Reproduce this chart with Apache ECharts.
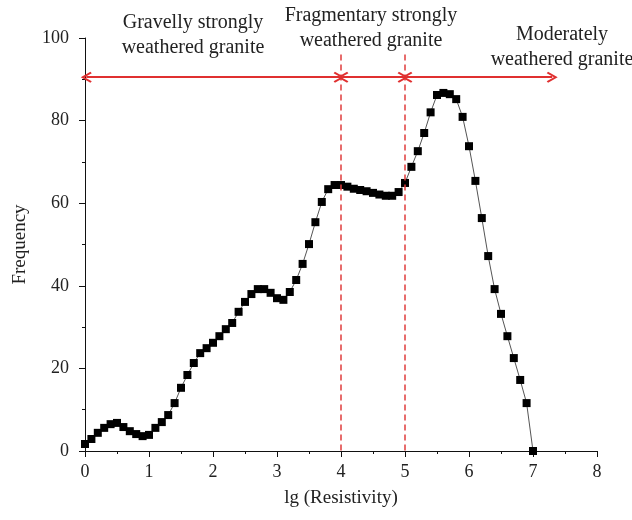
<!DOCTYPE html>
<html>
<head>
<meta charset="utf-8">
<script src="https://cdn.jsdelivr.net/npm/echarts@6/dist/echarts.min.js"></script>
<style>html,body{margin:0;padding:0;background:#fff;}#c{width:632px;height:520px;}</style>
</head>
<body>
<div id="c"></div>
<script>
var lgRes = [0.0,0.1,0.2,0.3,0.4,0.5,0.6,0.7,0.8,0.9,1.0,1.1,1.2,1.3,1.4,1.5,1.6,1.7,1.8,1.9,2.0,2.1,2.2,2.3,2.4,2.5,2.6,2.7,2.8,2.9,3.0,3.1,3.2,3.3,3.4,3.5,3.6,3.7,3.8,3.9,4.0,4.1,4.2,4.3,4.4,4.5,4.6,4.7,4.8,4.9,5.0,5.1,5.2,5.3,5.4,5.5,5.6,5.7,5.8,5.9,6.0,6.1,6.2,6.3,6.4,6.5,6.6,6.7,6.8,6.9,7.0];
var frequency = [1.7,2.9,4.4,5.6,6.5,6.8,5.8,4.8,4.1,3.6,3.9,5.6,7.0,8.7,11.6,15.3,18.4,21.3,23.7,24.9,26.2,27.8,29.5,31.0,33.7,36.1,38.0,39.2,39.2,38.3,37.0,36.6,38.5,41.4,45.3,50.1,55.4,60.3,63.4,64.4,64.4,64.0,63.5,63.2,62.9,62.5,62.1,61.8,61.8,62.7,64.9,68.8,72.6,77.0,82.0,86.2,86.7,86.4,85.2,80.9,73.8,65.4,56.4,47.2,39.2,33.2,27.8,22.5,17.2,11.6,0.0];
var xTicks = [0,1,2,3,4,5,6,7,8];
var yTicks = [0,20,40,60,80,100];
var zoneBounds = [4, 5];
var arrowSpans = [[0.02,3.97],[4.03,4.97],[5.03,7.3]];
var arrowLevel = 90.5;
var boundTop = 96;
var zoneLabels = ['Gravelly strongly\nweathered granite','Fragmentary strongly\nweathered granite','Moderately\nweathered granite'];

var font = 'Liberation Serif';
var chart = echarts.init(document.getElementById('c'), null, {renderer:'canvas'});
var pts = lgRes.map(function(x,i){return [x, frequency[i]];});
var chev = 'path://M5,0 L10,8.6 L8.6,9.8 L5,3.4 L1.4,9.8 L0,8.6 Z';

var vLines = zoneBounds.map(function(b){return [{coord:[b,boundTop]},{coord:[b,0]}];});
var aLines = arrowSpans.map(function(s){return [{coord:[s[0],arrowLevel]},{coord:[s[1],arrowLevel]}];});

chart.setOption({
  animation:false,
  backgroundColor:'#fff',
  grid:{left:85,right:35,top:38,bottom:69,containLabel:false},
  xAxis:{
    type:'value',min:0,max:8,interval:1,
    name:'lg (Resistivity)',nameLocation:'middle',nameGap:38,
    nameTextStyle:{fontFamily:font,fontSize:19,color:'#222'},
    axisLine:{show:true,onZero:false,lineStyle:{color:'#111',width:1}},
    axisTick:{show:true,inside:false,length:6,lineStyle:{color:'#111'}},
    minorTick:{show:true,splitNumber:2,length:3,lineStyle:{color:'#111'}},
    axisLabel:{fontFamily:font,fontSize:18,color:'#222',margin:12,
      formatter:function(v){return xTicks.indexOf(v)>=0?String(v):'';}},
    splitLine:{show:false}
  },
  yAxis:{
    type:'value',min:0,max:100,interval:20,
    name:'Frequency',nameLocation:'middle',nameGap:55,
    nameTextStyle:{fontFamily:font,fontSize:19,color:'#222'},
    axisLine:{show:true,onZero:false,lineStyle:{color:'#111',width:1}},
    axisTick:{show:true,inside:false,length:6,lineStyle:{color:'#111'}},
    minorTick:{show:true,splitNumber:2,length:3,lineStyle:{color:'#111'}},
    axisLabel:{fontFamily:font,fontSize:18,color:'#222',margin:16,
      formatter:function(v){return yTicks.indexOf(v)>=0?String(v):'';}},
    splitLine:{show:false}
  },
  series:[
    {
      type:'line',data:pts,symbol:'rect',symbolSize:8,showSymbol:true,
      clip:false,
      itemStyle:{color:'#000'},
      lineStyle:{color:'#555',width:1},
      z:3
    },
    {
      type:'line',data:[],silent:true,
      markLine:{
        silent:true,symbol:['none','none'],animation:false,
        label:{show:false},
        lineStyle:{color:'#e03c3c',width:1.5,type:[6,4]},
        data:vLines
      },
      z:2
    },
    {
      type:'line',data:[],silent:true,
      markLine:{
        silent:true,symbol:[chev,chev],symbolSize:[11,11],animation:false,
        label:{show:false},
        lineStyle:{color:'#e03030',width:1.8,type:'solid'},
        data:aLines
      },
      z:2
    }
  ],
  graphic:[
    {type:'text',x:193,y:35,style:{text:zoneLabels[0],align:'center',verticalAlign:'middle',fontFamily:font,fontSize:20,lineHeight:25,fill:'#222'}},
    {type:'text',x:371,y:28,style:{text:zoneLabels[1],align:'center',verticalAlign:'middle',fontFamily:font,fontSize:20,lineHeight:25,fill:'#222'}},
    {type:'text',x:562,y:47,style:{text:zoneLabels[2],align:'center',verticalAlign:'middle',fontFamily:font,fontSize:20,lineHeight:25,fill:'#222'}}
  ]
});
</script>
</body>
</html>
